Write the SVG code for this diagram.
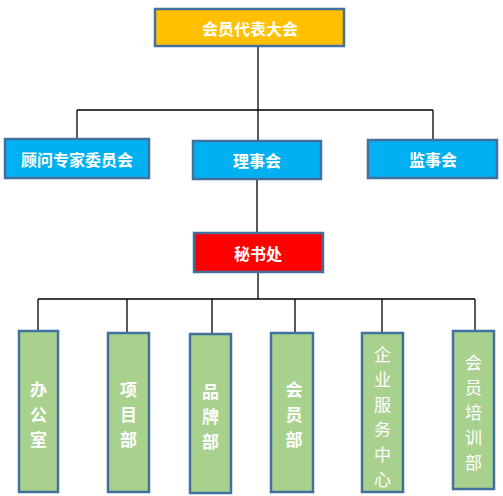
<svg xmlns="http://www.w3.org/2000/svg" width="503" height="496" viewBox="0 0 503 496">
<style>
.box{stroke:#41719C;stroke-width:2.5}
.y{fill:#FFC000}.b{fill:#00B0F0}.r{fill:#FF0000}.g{fill:#A9D18E}
text{fill:#fff;font-family:"Noto Sans CJK SC","Noto Sans CJK JP",sans-serif;font-size:16px;text-anchor:middle;dominant-baseline:central}
.bold{font-weight:bold}
.v{font-size:17px}
.conn path{fill:none;stroke:#000;stroke-width:1.3}
</style>
<rect width="503" height="496" fill="#fff"/>
<g class="conn">
<path d="M258,46V110M77,110H433M77,110V139M433,110V140M258,110V141"/>
<path d="M257,179V233M258,272V299M38,299H475M38,299V331M127,299V333M212,299V334M295,299V333M382,299V333M475,299V331"/>
</g>
<g id="n-assembly"><rect class="box y" x="155" y="9" width="189" height="37"/><text class="bold" x="250" y="27.5">会员代表大会</text></g>
<g id="n-advisors"><rect class="box b" x="5" y="139" width="144" height="39"/><text class="bold" x="77" y="158.5">顾问专家委员会</text></g>
<g id="n-council"><rect class="box b" x="193" y="141" width="128" height="38"/><text class="bold" x="257" y="160">理事会</text></g>
<g id="n-supervisors"><rect class="box b" x="368" y="140" width="129" height="38"/><text class="bold" x="433" y="159">监事会</text></g>
<g id="n-secretariat"><rect class="box r" x="194" y="233" width="129" height="39"/><text class="bold" x="258" y="252.5">秘书处</text></g>
<g id="n-office"><rect class="box g" x="19" y="331" width="39" height="161"/><text class="bold v" x="38.5"><tspan x="38.5" y="388">办</tspan><tspan x="38.5" y="413">公</tspan><tspan x="38.5" y="438">室</tspan></text></g>
<g id="n-project"><rect class="box g" x="108" y="333" width="41" height="159"/><text class="bold v" x="128.5"><tspan x="128.5" y="388">项</tspan><tspan x="128.5" y="413">目</tspan><tspan x="128.5" y="438">部</tspan></text></g>
<g id="n-brand"><rect class="box g" x="190" y="334" width="41" height="159"/><text class="bold v" x="210.5"><tspan x="210.5" y="390">品</tspan><tspan x="210.5" y="415">牌</tspan><tspan x="210.5" y="440">部</tspan></text></g>
<g id="n-member"><rect class="box g" x="271" y="333" width="42" height="159"/><text class="bold v" x="294"><tspan x="294" y="388">会</tspan><tspan x="294" y="413">员</tspan><tspan x="294" y="438">部</tspan></text></g>
<g id="n-enterprise"><rect class="box g" x="362" y="333" width="41" height="159"/><text class="v" x="382.5"><tspan x="382.5" y="353">企</tspan><tspan x="382.5" y="378">业</tspan><tspan x="382.5" y="403">服</tspan><tspan x="382.5" y="428">务</tspan><tspan x="382.5" y="453">中</tspan><tspan x="382.5" y="478">心</tspan></text></g>
<g id="n-training"><rect class="box g" x="453" y="331" width="41" height="158"/><text class="v" x="473.5"><tspan x="473.5" y="361">会</tspan><tspan x="473.5" y="386">员</tspan><tspan x="473.5" y="411">培</tspan><tspan x="473.5" y="436">训</tspan><tspan x="473.5" y="461">部</tspan></text></g>
</svg>
